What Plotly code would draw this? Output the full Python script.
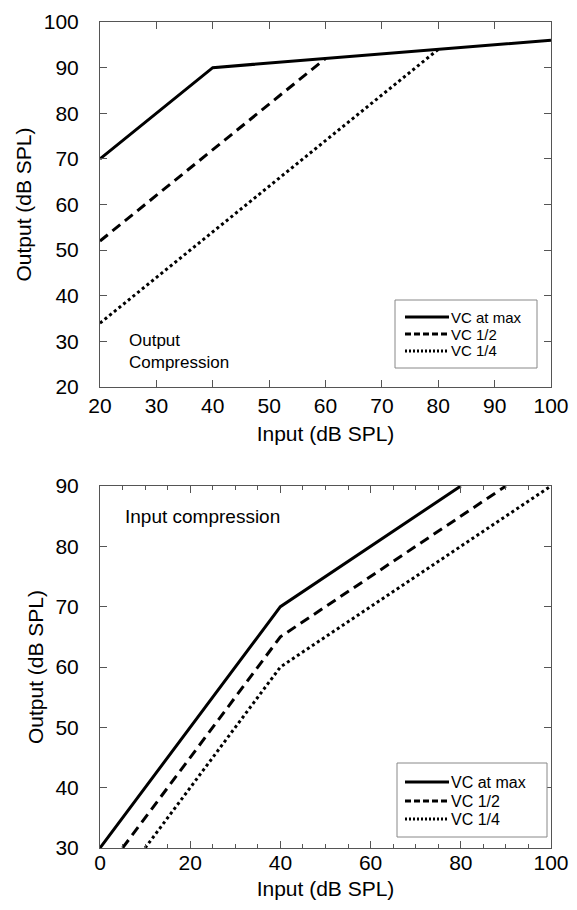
import plotly.graph_objects as go

# Output compression (top panel)
out_max_x = [20, 40, 100]
out_max_y = [70, 90, 96]
out_half_x = [20, 60]
out_half_y = [52, 92]
out_quarter_x = [20, 80]
out_quarter_y = [34, 94]

# Input compression (bottom panel)
in_max_x = [0, 40, 80]
in_max_y = [30, 70, 90]
in_half_x = [5, 40, 90]
in_half_y = [30, 65, 90]
in_quarter_x = [10, 40, 100]
in_quarter_y = [30, 60, 90]

series_names = ["VC at max", "VC 1/2", "VC 1/4"]
dashes = ["solid", "10px,6px", "3px,3px"]
key_dashes = ["solid", "6px,3px", "2px,2px"]

FONT = "Liberation Sans, Arial, sans-serif"
W, H = 577, 910
L, R = 100, 551  # plot area left/right edges in pixels

fig = go.Figure()

top = [(out_max_x, out_max_y), (out_half_x, out_half_y), (out_quarter_x, out_quarter_y)]
bot = [(in_max_x, in_max_y), (in_half_x, in_half_y), (in_quarter_x, in_quarter_y)]

for (xs, ys), name, dash in zip(top, series_names, dashes):
    fig.add_trace(go.Scatter(x=xs, y=ys, mode="lines", name=name, showlegend=False,
                             line=dict(color="black", width=3, dash=dash),
                             xaxis="x", yaxis="y"))
for (xs, ys), name, dash in zip(bot, series_names, dashes):
    fig.add_trace(go.Scatter(x=xs, y=ys, mode="lines", name=name, showlegend=False,
                             line=dict(color="black", width=3, dash=dash),
                             xaxis="x2", yaxis="y2"))


def px_x(px):
    return (px - L) / (R - L)


def px_y(px):
    return 1 - px / H


axis_common = dict(showline=True, linecolor="#555", linewidth=1, mirror="ticks",
                   ticks="inside", ticklen=7, tickcolor="#555", showgrid=False,
                   zeroline=False, tickfont=dict(family=FONT, size=21, color="black"),
                   title_font=dict(family=FONT, size=21, color="black"))

fig.update_layout(
    width=W, height=H,
    margin=dict(l=L, r=W - R, t=0, b=0, autoexpand=False),
    plot_bgcolor="white", paper_bgcolor="white",
    xaxis=dict(domain=[0, 1], range=[20, 100], dtick=10, anchor="y",
               ticklabelstandoff=0,
               title=dict(text="Input (dB SPL)", standoff=10), **axis_common),
    yaxis=dict(domain=[px_y(387), px_y(22)], range=[20, 100], dtick=10, anchor="x",
               ticklabelstandoff=16,
               title=dict(text="Output (dB SPL)", standoff=6), **axis_common),
    xaxis2=dict(domain=[0, 1], range=[0, 100], dtick=20, anchor="y2",
                ticklabelstandoff=-4,
                minor=dict(dtick=5, ticks="inside", ticklen=4, tickcolor="#555"),
                title=dict(text="Input (dB SPL)", standoff=8), **axis_common),
    yaxis2=dict(domain=[px_y(848), px_y(486)], range=[30, 90], dtick=10, anchor="x2",
                ticklabelstandoff=16,
                title=dict(text="Output (dB SPL)", standoff=6), **axis_common),
    showlegend=False,
)


def draw_key(box, rows, line_x, text_x, font_size):
    """Boxed key: a sample line and a label for each series."""
    x0, y0, x1, y1 = box
    fig.add_shape(type="rect", xref="paper", yref="paper",
                  x0=px_x(x0), x1=px_x(x1), y0=px_y(y1), y1=px_y(y0),
                  line=dict(color="#888", width=1), fillcolor="white", layer="above")
    for name, dash, ry in zip(series_names, key_dashes, rows):
        fig.add_shape(type="line", xref="paper", yref="paper",
                      x0=px_x(line_x[0]), x1=px_x(line_x[1]),
                      y0=px_y(ry), y1=px_y(ry), layer="above",
                      line=dict(color="black", width=3, dash=dash))
        fig.add_annotation(x=px_x(text_x), y=px_y(ry), xref="paper", yref="paper",
                           text=name, showarrow=False, xanchor="left",
                           yanchor="middle",
                           font=dict(family=FONT, size=font_size, color="black"))


draw_key((395, 300, 537, 368), (317, 334, 351), (405, 449), 449, 15)
draw_key((397, 763, 547, 837), (782, 801, 819), (405, 449), 449, 16)

fig.add_annotation(x=px_x(127), y=px_y(352), xref="paper", yref="paper",
                   text="Output<br>Compression", showarrow=False,
                   xanchor="left", yanchor="middle", align="left",
                   font=dict(family=FONT, size=17, color="black"))
fig.add_annotation(x=px_x(123), y=px_y(516), xref="paper", yref="paper",
                   text="Input compression", showarrow=False,
                   xanchor="left", yanchor="middle", align="left",
                   font=dict(family=FONT, size=19, color="black"))

fig.write_html("out.html")
